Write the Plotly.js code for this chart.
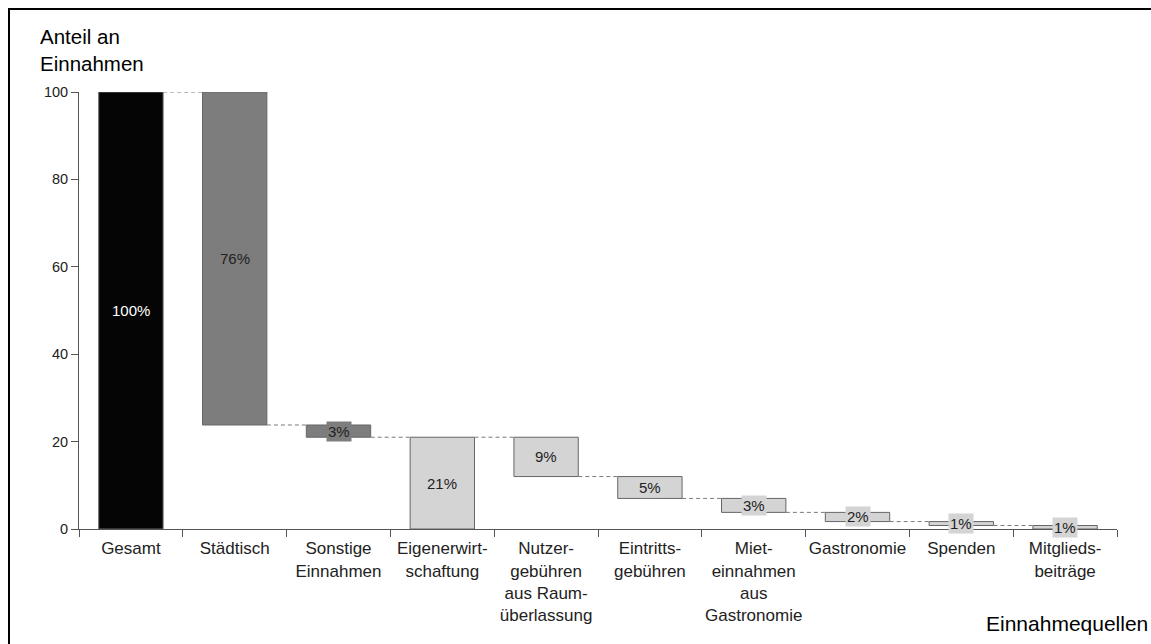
<!DOCTYPE html>
<html>
<head>
<meta charset="utf-8">
<script src="https://cdn.plot.ly/plotly-3.0.1.min.js"></script>
<style>
html,body{margin:0;padding:0;background:#fff;}
#chart{width:1151px;height:644px;}
</style>
</head>
<body>
<div id="chart"></div>
<script>
// ---- data ----
const categories = ["Gesamt", "Städtisch", "Sonstige<br>Einnahmen", "Eigenerwirt-<br>schaftung",
  "Nutzer-<br>gebühren<br>aus Raum-<br>überlassung", "Eintritts-<br>gebühren",
  "Miet-<br>einnahmen<br>aus<br>Gastronomie", "Gastronomie", "Spenden", "Mitglieds-<br>beiträge"];
const values = [100, 76.2, 2.8, 21.0, 9.0, 5.0, 3.2, 2.1, 0.9, 0.8];
const kinds = ["total", "decrease", "decrease", "total", "decrease", "decrease", "decrease", "decrease", "decrease", "decrease"];
const fillColors = ["#050505", "#7d7d7d", "#7d7d7d", "#d4d4d4", "#d4d4d4", "#d4d4d4", "#d4d4d4", "#d4d4d4", "#d4d4d4", "#d4d4d4"];
const labelColors = ["#ffffff", "#222222", "#222222", "#222222", "#222222", "#222222", "#222222", "#222222", "#222222", "#222222"];

// ---- waterfall geometry from the data ----
const bases = [];
const levels = [];
let level = 0;
for (let i = 0; i < values.length; i++) {
  if (kinds[i] === "total") {
    bases.push(0);
    level = values[i];
  } else {
    level = level - values[i];
    bases.push(level);
  }
  levels.push(level);
}

const barWidth = 0.62;
const FONT = "Liberation Sans, Arial, sans-serif";

// plot-area pixel frame helpers (layout only)
const W = 1151, H = 644;
const mL = 79, mR = 34, mT = 92, mB = 115;
const pw = W - mL - mR, ph = H - mT - mB;
const px = x => (x - mL) / pw;
const py = y => (H - mB - y) / ph;

const shapes = [];
for (let i = 0; i < values.length - 1; i++) {
  shapes.push({
    type: "line", xref: "x", yref: "y",
    x0: i + barWidth / 2, x1: i + 1 - barWidth / 2,
    y0: levels[i], y1: levels[i],
    line: {color: "#7a7a7a", width: 1, dash: "4px,3px"}
  });
}
// outer frame
shapes.push({
  type: "rect", xref: "paper", yref: "paper",
  x0: px(9), x1: px(1170), y0: py(9), y1: py(660),
  line: {color: "#000", width: 2}, fillcolor: "rgba(0,0,0,0)", layer: "below"
});

const annotations = values.map((v, i) => ({
  x: i, y: bases[i] + v / 2, xref: "x", yref: "y",
  text: Math.round(v) + "%", showarrow: false,
  font: {family: FONT, size: 15, color: labelColors[i]},
  bgcolor: fillColors[i], borderpad: 1
}));
annotations.push({
  xref: "paper", yref: "paper", x: px(38), y: py(23), xanchor: "left", yanchor: "top",
  text: "Anteil an<br>Einnahmen", align: "left", showarrow: false,
  font: {family: FONT, size: 20.5, color: "#000"}
});
annotations.push({
  xref: "paper", yref: "paper", x: px(1150), y: py(637), xanchor: "right", yanchor: "bottom",
  text: "Einnahmequellen", showarrow: false,
  font: {family: FONT, size: 21, color: "#000"}
});

const trace = {
  type: "bar",
  x: categories,
  y: values,
  base: bases,
  width: barWidth,
  marker: {color: fillColors, line: {color: "#666666", width: 1}},
  hoverinfo: "skip"
};

const layout = {
  width: W, height: H,
  margin: {l: mL, r: mR, t: mT, b: mB, pad: 0},
  paper_bgcolor: "#fff", plot_bgcolor: "#fff",
  showlegend: false,
  font: {family: FONT, color: "#222"},
  xaxis: {
    type: "category", range: [-0.5, values.length - 0.5],
    tickson: "boundaries", ticks: "outside", ticklen: 7, tickcolor: "#555", tickwidth: 1,
    showline: true, linecolor: "#555", linewidth: 1, showgrid: false, zeroline: false,
    tickfont: {family: FONT, size: 17, color: "#222"}, tickangle: 0, automargin: false,
    ticklabelstandoff: 4
  },
  yaxis: {
    range: [0, 100], tickvals: [0, 20, 40, 60, 80, 100], ticks: "outside", ticklen: 7,
    tickcolor: "#555", showline: true, linecolor: "#555", linewidth: 1,
    showgrid: false, zeroline: false,
    tickfont: {family: FONT, size: 14.5, color: "#222"}, automargin: false
  },
  shapes: shapes,
  annotations: annotations
};

Plotly.newPlot("chart", [trace], layout, {displayModeBar: false, staticPlot: true});
</script>
</body>
</html>
